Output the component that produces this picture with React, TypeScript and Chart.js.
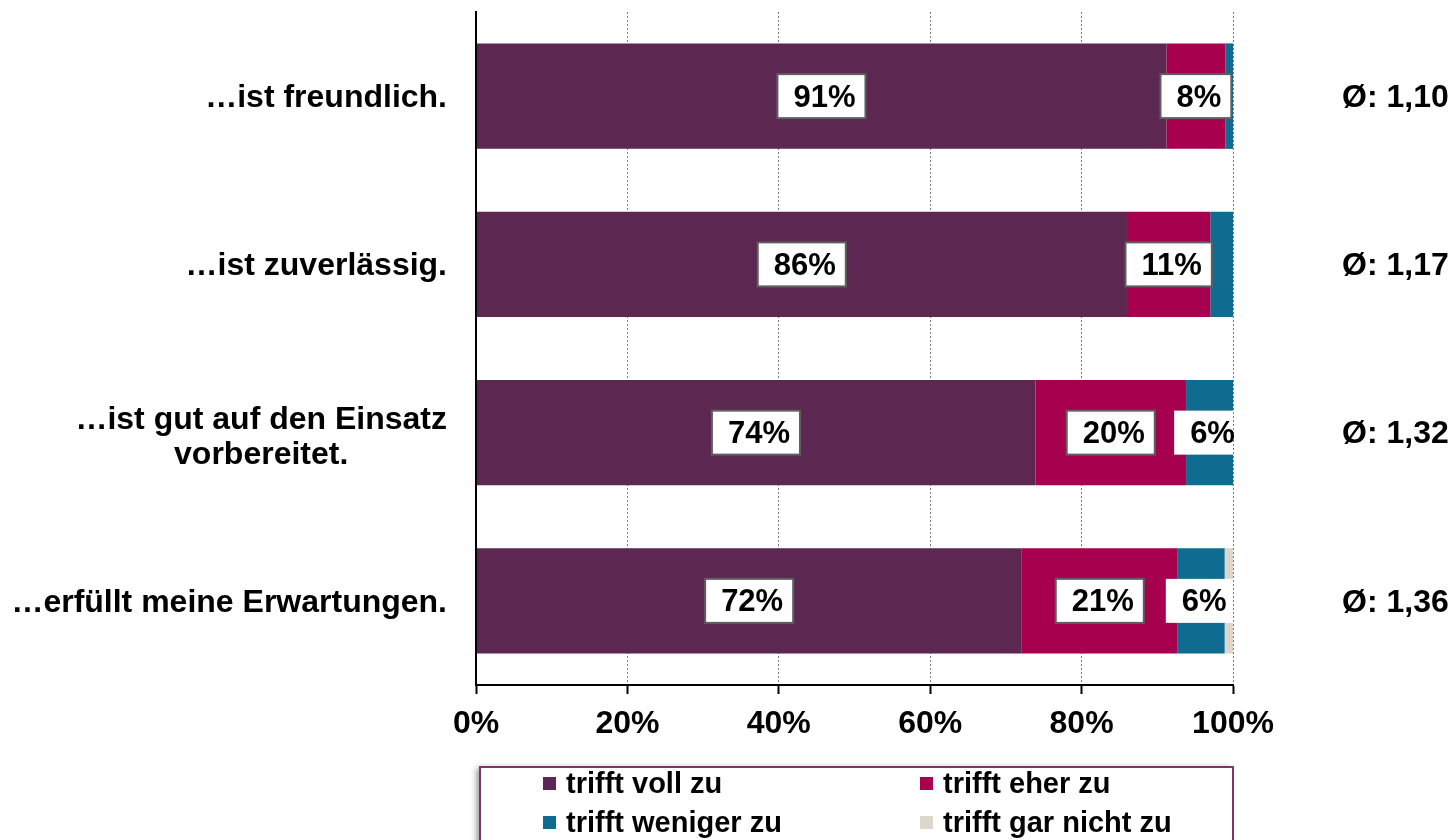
import React, { useEffect, useRef } from "react";
import { Chart, registerables } from "chart.js";

Chart.register(...registerables);

const categories: string[][] = [
  ["…ist freundlich."],
  ["…ist zuverlässig."],
  ["…ist gut auf den Einsatz", "vorbereitet."],
  ["…erfüllt meine Erwartungen."],
];
const seriesNames = ["trifft voll zu", "trifft eher zu", "trifft weniger zu", "trifft gar nicht zu"];
const seriesColors = ["#5C2751", "#A6004F", "#0F6B8F", "#DCD6CB"];
const trifftVoll = [91.2, 86.0, 73.9, 72.1];
const trifftEher = [7.8, 11.0, 19.9, 20.6];
const trifftWeniger = [1.0, 3.0, 6.2, 6.2];
const trifftGarNicht = [0, 0, 0, 1.1];
const averages = ["Ø: 1,10", "Ø: 1,17", "Ø: 1,32", "Ø: 1,36"];
const xTicks = [0, 20, 40, 60, 80, 100];

const FONT = "'Liberation Sans', Arial, sans-serif";

const customPlugin = {
  id: "custom",
  afterDatasetsDraw(chart: any) {
    const ctx = chart.ctx;
    const area = chart.chartArea;
    ctx.save();
    ctx.font = `bold 31px ${FONT}`;
    ctx.textBaseline = "middle";
    ctx.textAlign = "center";
    chart.data.datasets.forEach((ds: any, di: number) => {
      const meta = chart.getDatasetMeta(di);
      meta.data.forEach((bar: any, i: number) => {
        const v = ds.data[i];
        if (v < 5) return;
        const txt = Math.round(v) + "%";
        const cx = (bar.x + bar.base) / 2;
        const cy = bar.y;
        const w = ctx.measureText(txt).width + 26;
        const h = 44;
        let x0 = cx - w / 2;
        let x1 = cx + w / 2;
        const clipped = x1 > area.right;
        if (clipped) x1 = area.right;
        ctx.fillStyle = "#ffffff";
        ctx.fillRect(x0, cy - h / 2, x1 - x0, h);
        if (!clipped) {
          ctx.strokeStyle = "#5f5f5f";
          ctx.lineWidth = 2;
          ctx.strokeRect(x0, cy - h / 2, w, h);
        }
        ctx.fillStyle = "#000000";
        ctx.fillText(txt, cx + 3, cy + 2);
      });
    });
    ctx.restore();
  },
  afterDraw(chart: any) {
    const ctx = chart.ctx;
    const yScale = chart.scales.y;
    const xScale = chart.scales.x;
    const area = chart.chartArea;
    ctx.save();
    // solid axis lines
    ctx.strokeStyle = "#000";
    ctx.lineWidth = 2;
    ctx.setLineDash([]);
    ctx.beginPath();
    ctx.moveTo(area.left, area.bottom);
    ctx.lineTo(area.right, area.bottom);
    ctx.moveTo(area.left, area.top);
    ctx.lineTo(area.left, area.bottom);
    ctx.stroke();
    // category labels
    ctx.font = `bold 32px ${FONT}`;
    ctx.textBaseline = "middle";
    ctx.fillStyle = "#000";
    categories.forEach((lines, i) => {
      const cy = yScale.getPixelForValue(i);
      const maxW = Math.max(...lines.map((l) => ctx.measureText(l).width));
      const cx = 447 - maxW / 2;
      const lh = 35;
      const startY = cy - ((lines.length - 1) * lh) / 2 + (lines.length > 1 ? 3 : 0);
      ctx.textAlign = "center";
      lines.forEach((l, k) => ctx.fillText(l, cx, startY + k * lh + 2));
    });
    // averages
    ctx.font = `bold 32px ${FONT}`;
    ctx.textAlign = "left";
    averages.forEach((a, i) => {
      const cy = yScale.getPixelForValue(i);
      ctx.fillText(a, 1342, cy + 2);
    });
    // legend box
    const lx = 480, ly = 767, lw = 753, lh2 = 90;
    ctx.save();
    ctx.shadowColor = "rgba(0,0,0,0.45)";
    ctx.shadowBlur = 6;
    ctx.shadowOffsetX = -3;
    ctx.shadowOffsetY = 1;
    ctx.fillStyle = "#fff";
    ctx.fillRect(lx, ly, lw, lh2);
    ctx.restore();
    ctx.strokeStyle = "#7A3A63";
    ctx.lineWidth = 2;
    ctx.strokeRect(lx, ly, lw, lh2);
    const colX = [543, 920];
    const rowY = [783, 822];
    ctx.font = `bold 29px ${FONT}`;
    ctx.textAlign = "left";
    chart.data.datasets.forEach((ds: any, di: number) => {
      const x = colX[di % 2];
      const y = rowY[Math.floor(di / 2)];
      ctx.fillStyle = ds.backgroundColor;
      ctx.fillRect(x, y - 6, 13, 13);
      ctx.fillStyle = "#000";
      ctx.fillText(ds.label, x + 23, y + 2);
    });
    ctx.restore();
  },
};

export default function App() {
  const ref = useRef<HTMLCanvasElement>(null);
  useEffect(() => {
    if (!ref.current) return;
    const values = [trifftVoll, trifftEher, trifftWeniger, trifftGarNicht];
    const chart = new Chart(ref.current, {
      type: "bar",
      data: {
        labels: categories.map((c) => c.join(" ")),
        datasets: seriesNames.map((name, i) => ({
          label: name,
          data: values[i],
          backgroundColor: seriesColors[i],
          borderWidth: 0,
          categoryPercentage: 1,
          barPercentage: 0.627,
        })),
      },
      options: {
        indexAxis: "y",
        responsive: false,
        animation: false,
        layout: { padding: { left: 0, right: 223, top: 12, bottom: 95 } },
        plugins: { legend: { display: false }, tooltip: { enabled: false } },
        scales: {
          x: {
            stacked: true,
            min: 0,
            max: 100,
            afterBuildTicks: (scale: any) => {
              scale.ticks = xTicks.map((v) => ({ value: v }));
            },
            afterFit: (scale: any) => {
              scale.height = 60;
            },
            ticks: {
              callback: (v: any) => v + "%",
              font: { family: FONT, size: 32, weight: "bold" },
              color: "#000",
              padding: 11,
              maxRotation: 0,
            },
            grid: {
              color: (c: any) => (c.tick && c.tick.value === 0 ? "rgba(0,0,0,0)" : "#7a7a7a"),
              lineWidth: 1,
              borderDash: [2, 2],
              tickColor: "#000",
              tickLength: 9,
              tickBorderDash: [],
              tickWidth: 2,
            },
            border: { display: true, color: "#000", width: 2, dash: [2, 2] },
          },
          y: {
            stacked: true,
            afterFit: (scale: any) => {
              scale.width = 476;
            },
            ticks: { display: false },
            grid: { display: false },
            border: { display: true, color: "#000", width: 2 },
          },
        },
      },
      plugins: [customPlugin],
    } as any);
    return () => chart.destroy();
  }, []);
  return (
    <div style={{ position: "absolute", left: 0, top: 0, width: 1456, height: 840, background: "#fff" }}>
      <canvas ref={ref} width={1456} height={840} style={{ display: "block" }} />
    </div>
  );
}
